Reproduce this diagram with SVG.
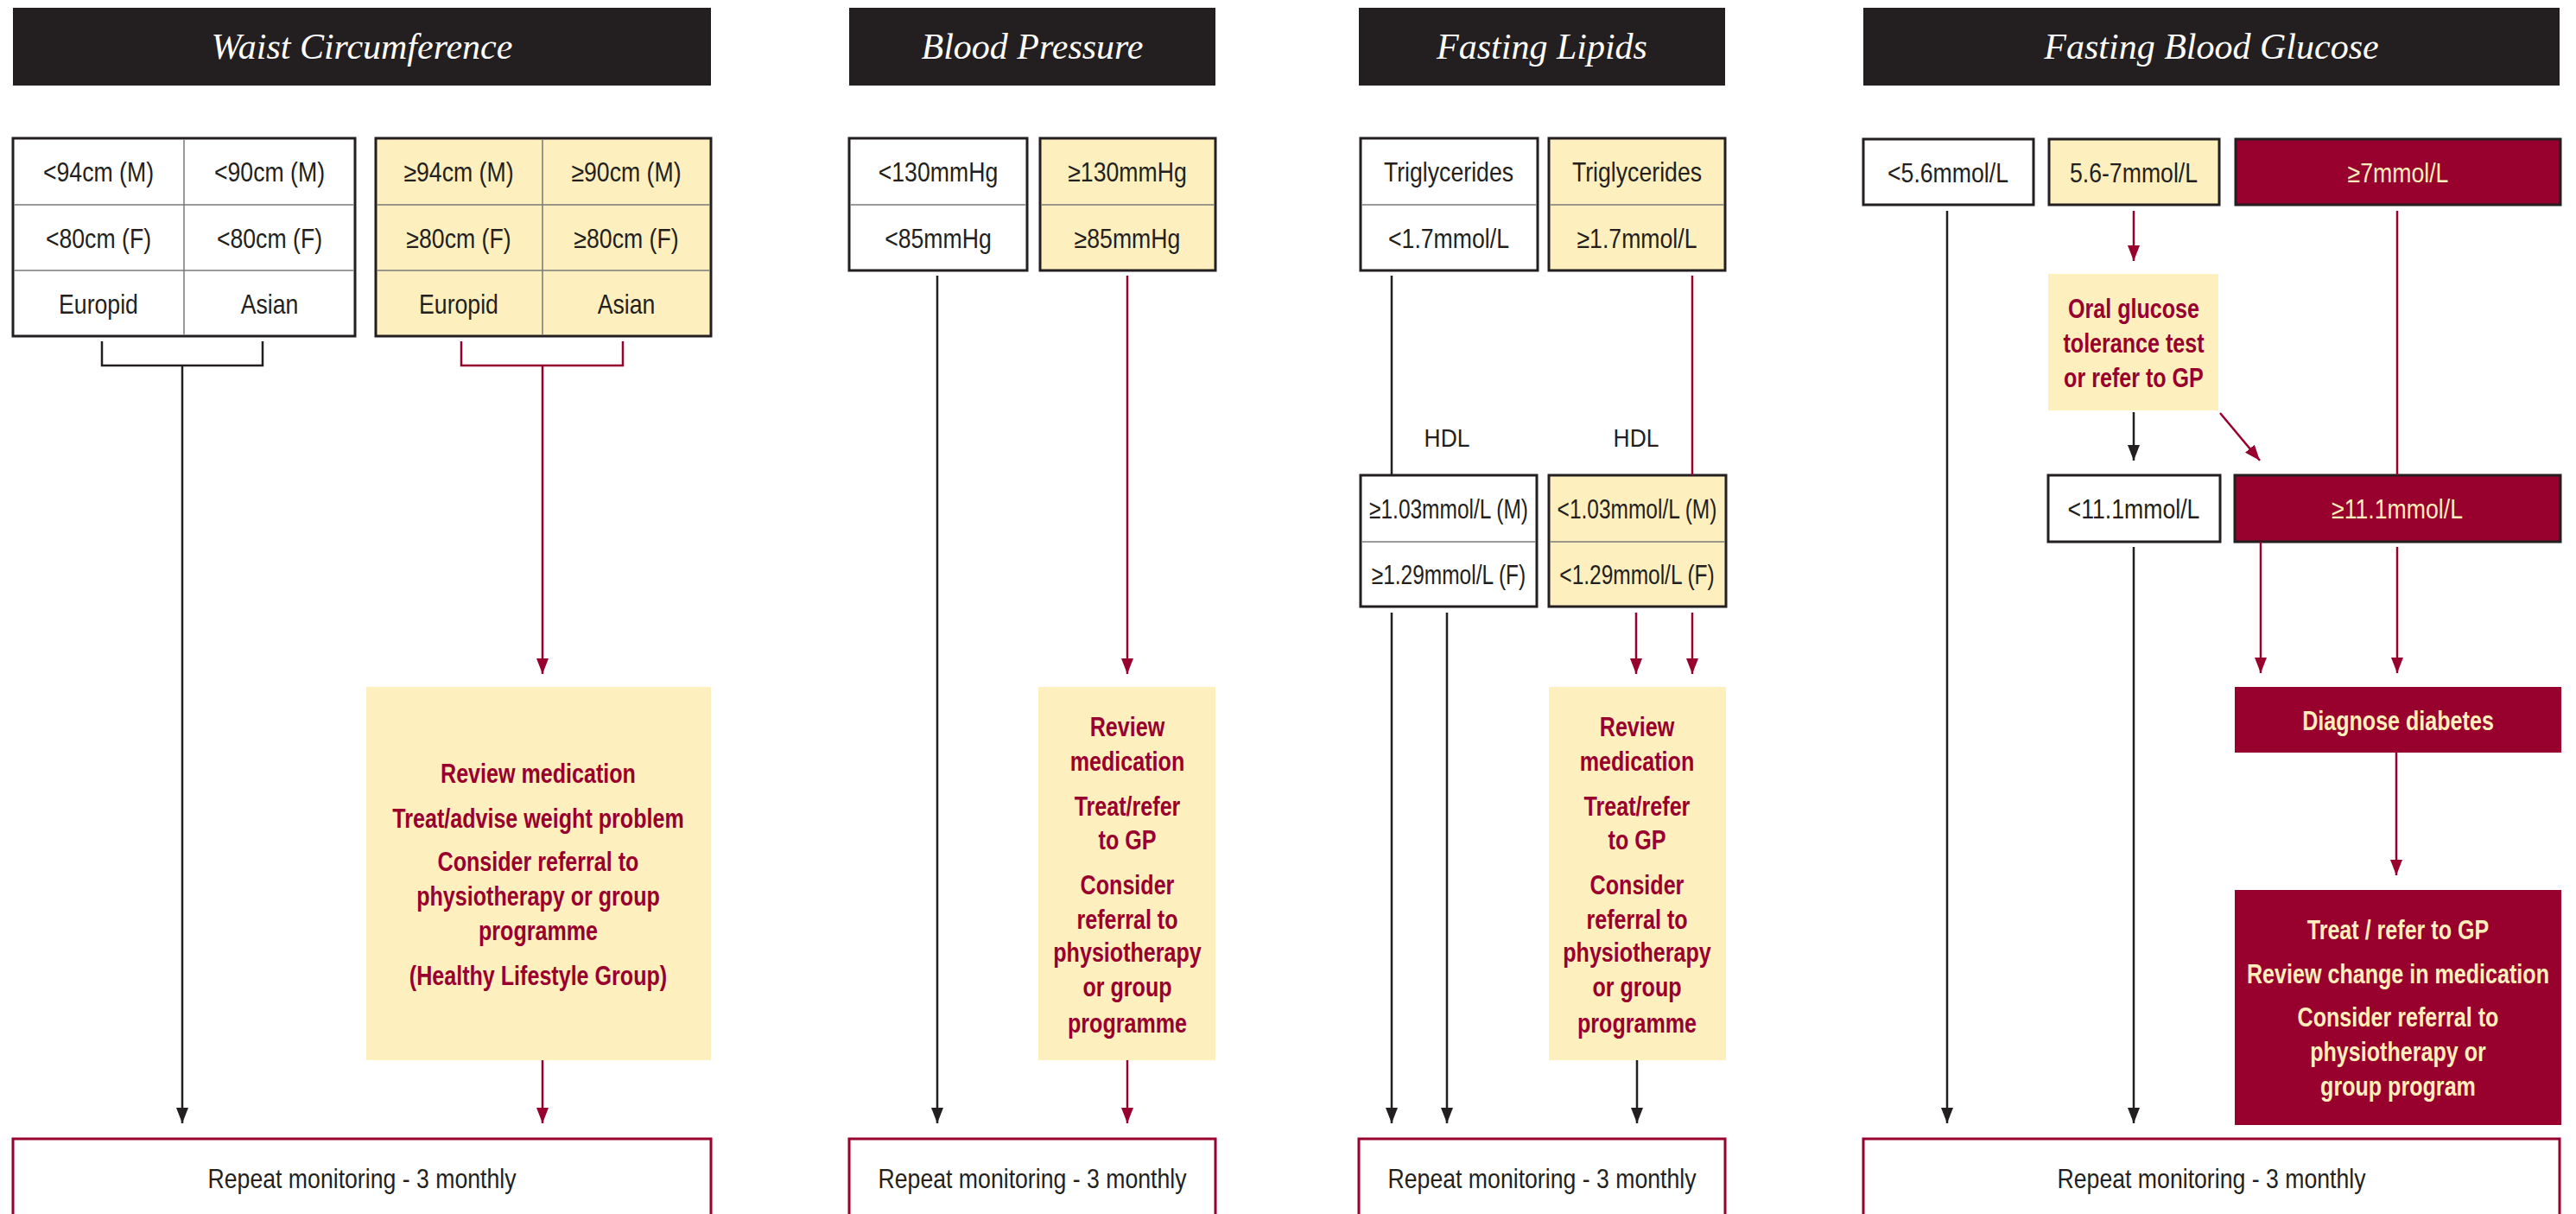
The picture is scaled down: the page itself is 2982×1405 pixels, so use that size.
<svg xmlns="http://www.w3.org/2000/svg" width="2982" height="1405" viewBox="0 0 2982 1405">
<style>
.bg{fill:#ffffff}
.hdr{fill:#231f20}
.ttl{font-family:"Liberation Serif",serif;font-style:italic;font-size:42px;fill:#ffffff;text-anchor:middle}
.t{font-family:"Liberation Sans",Arial,sans-serif;font-size:31px;fill:#231f20;text-anchor:middle;transform-box:fill-box;transform-origin:center;transform:scaleX(0.86)}
.hv{transform:scaleX(0.79)}
.hl{font-size:30px;transform:scaleX(0.88)}
.b{font-weight:bold;fill:#98002e;transform:scaleX(0.81)}
.cr{fill:#fdeebb}
.box{fill:#ffffff;stroke:#231f20;stroke-width:3}
.ybox{fill:#feefbe;stroke:#231f20;stroke-width:3}
.rbox{fill:#98002e;stroke:#231f20;stroke-width:3}
.yfill{fill:#feefbe}
.rfill{fill:#98002e}
.div{stroke:#7a7a7a;stroke-width:1.5;fill:none}
.bot{fill:#ffffff;stroke:#98002e;stroke-width:3}
.lk{stroke:#231f20;stroke-width:2.5;fill:none}
.lr{stroke:#98002e;stroke-width:2.5;fill:none}
.ak{stroke:#231f20;stroke-width:2.5;fill:none;marker-end:url(#mk)}
.ar{stroke:#98002e;stroke-width:2.5;fill:none;marker-end:url(#mr)}
</style>
<defs>
<marker id="mk" markerUnits="userSpaceOnUse" markerWidth="18" markerHeight="14" refX="18" refY="7" orient="auto"><path d="M0,0 L18,7 L0,14 z" fill="#231f20"/></marker>
<marker id="mr" markerUnits="userSpaceOnUse" markerWidth="18" markerHeight="14" refX="18" refY="7" orient="auto"><path d="M0,0 L18,7 L0,14 z" fill="#98002e"/></marker>
</defs>
<rect class="bg" x="0" y="0" width="2982" height="1405"/>

<!-- Headers -->
<g id="hdr-waist"><rect class="hdr" x="15" y="9" width="808" height="90"/><text class="ttl" x="419" y="68">Waist Circumference</text></g>
<g id="hdr-bp"><rect class="hdr" x="983" y="9" width="424" height="90"/><text class="ttl" x="1195" y="68">Blood Pressure</text></g>
<g id="hdr-lipids"><rect class="hdr" x="1573" y="9" width="424" height="90"/><text class="ttl" x="1785" y="68">Fasting Lipids</text></g>
<g id="hdr-glucose"><rect class="hdr" x="2157" y="9" width="806" height="90"/><text class="ttl" x="2560" y="68">Fasting Blood Glucose</text></g>

<!-- Waist -->
<g id="waist-normal">
<rect class="box" x="15" y="160" width="396" height="229"/>
<path class="div" d="M213,161.5V387.5M16.5,237H409.5M16.5,313H409.5"/>
<text class="t" x="114" y="210">&lt;94cm (M)</text><text class="t" x="312" y="210">&lt;90cm (M)</text>
<text class="t" x="114" y="287">&lt;80cm (F)</text><text class="t" x="312" y="287">&lt;80cm (F)</text>
<text class="t" x="114" y="363">Europid</text><text class="t" x="312" y="363">Asian</text>
</g>
<g id="waist-high">
<rect class="ybox" x="435" y="160" width="388" height="229"/>
<path class="div" d="M628,161.5V387.5M436.5,237H821.5M436.5,313H821.5"/>
<text class="t" x="531" y="210">≥94cm (M)</text><text class="t" x="725" y="210">≥90cm (M)</text>
<text class="t" x="531" y="287">≥80cm (F)</text><text class="t" x="725" y="287">≥80cm (F)</text>
<text class="t" x="531" y="363">Europid</text><text class="t" x="725" y="363">Asian</text>
</g>
<g id="waist-action">
<rect class="yfill" x="424" y="795" width="399" height="432"/>
<text class="t b" x="623" y="906">Review medication</text>
<text class="t b" x="623" y="958">Treat/advise weight problem</text>
<text class="t b" x="623" y="1008">Consider referral to</text>
<text class="t b" x="623" y="1048">physiotherapy or group</text>
<text class="t b" x="623" y="1088">programme</text>
<text class="t b" x="623" y="1140">(Healthy Lifestyle Group)</text>
</g>
<g id="waist-repeat"><rect class="bot" x="15" y="1318" width="808" height="120"/><text class="t" x="419" y="1375">Repeat monitoring - 3 monthly</text></g>

<!-- Blood pressure -->
<g id="bp-normal">
<rect class="box" x="983" y="160" width="206" height="153"/>
<path class="div" d="M984.5,237H1187.5"/>
<text class="t" x="1086" y="210">&lt;130mmHg</text><text class="t" x="1086" y="287">&lt;85mmHg</text>
</g>
<g id="bp-high">
<rect class="ybox" x="1204" y="160" width="203" height="153"/>
<path class="div" d="M1205.5,237H1405.5"/>
<text class="t" x="1305" y="210">≥130mmHg</text><text class="t" x="1305" y="287">≥85mmHg</text>
</g>
<g id="bp-action">
<rect class="yfill" x="1202" y="795" width="205" height="432"/>
<text class="t b" x="1305" y="852">Review</text>
<text class="t b" x="1305" y="892">medication</text>
<text class="t b" x="1305" y="944">Treat/refer</text>
<text class="t b" x="1305" y="983">to GP</text>
<text class="t b" x="1305" y="1035">Consider</text>
<text class="t b" x="1305" y="1075">referral to</text>
<text class="t b" x="1305" y="1113">physiotherapy</text>
<text class="t b" x="1305" y="1153">or group</text>
<text class="t b" x="1305" y="1195">programme</text>
</g>
<g id="bp-repeat"><rect class="bot" x="983" y="1318" width="424" height="120"/><text class="t" x="1195" y="1375">Repeat monitoring - 3 monthly</text></g>

<!-- Lipids -->
<g id="tg-normal">
<rect class="box" x="1575" y="160" width="205" height="153"/>
<path class="div" d="M1576.5,237H1778.5"/>
<text class="t" x="1677" y="210">Triglycerides</text><text class="t" x="1677" y="287">&lt;1.7mmol/L</text>
</g>
<g id="tg-high">
<rect class="ybox" x="1793" y="160" width="204" height="153"/>
<path class="div" d="M1794.5,237H1995.5"/>
<text class="t" x="1895" y="210">Triglycerides</text><text class="t" x="1895" y="287">≥1.7mmol/L</text>
</g>
<g id="hdl-labels">
<text class="t hl" x="1675" y="517">HDL</text>
<text class="t hl" x="1894" y="517">HDL</text>
</g>
<g id="hdl-normal">
<rect class="box" x="1575" y="550" width="204" height="152"/>
<path class="div" d="M1576.5,627H1777.5"/>
<text class="t hv" x="1677" y="600">≥1.03mmol/L (M)</text><text class="t hv" x="1677" y="676">≥1.29mmol/L (F)</text>
</g>
<g id="hdl-low">
<rect class="ybox" x="1793" y="550" width="205" height="152"/>
<path class="div" d="M1794.5,627H1996.5"/>
<text class="t hv" x="1895" y="600">&lt;1.03mmol/L (M)</text><text class="t hv" x="1895" y="676">&lt;1.29mmol/L (F)</text>
</g>
<g id="lipids-action">
<rect class="yfill" x="1793" y="795" width="205" height="432"/>
<text class="t b" x="1895" y="852">Review</text>
<text class="t b" x="1895" y="892">medication</text>
<text class="t b" x="1895" y="944">Treat/refer</text>
<text class="t b" x="1895" y="983">to GP</text>
<text class="t b" x="1895" y="1035">Consider</text>
<text class="t b" x="1895" y="1075">referral to</text>
<text class="t b" x="1895" y="1113">physiotherapy</text>
<text class="t b" x="1895" y="1153">or group</text>
<text class="t b" x="1895" y="1195">programme</text>
</g>
<g id="lipids-repeat"><rect class="bot" x="1573" y="1318" width="424" height="120"/><text class="t" x="1785" y="1375">Repeat monitoring - 3 monthly</text></g>

<!-- Glucose -->
<g id="fbg-normal"><rect class="box" x="2157" y="161" width="197" height="76"/><text class="t" x="2255" y="211">&lt;5.6mmol/L</text></g>
<g id="fbg-mid"><rect class="ybox" x="2372" y="161" width="197" height="76"/><text class="t" x="2470" y="211">5.6-7mmol/L</text></g>
<g id="fbg-high"><rect class="rbox" x="2588" y="161" width="376" height="76"/><text class="t cr" x="2776" y="211">≥7mmol/L</text></g>
<g id="ogtt"><rect class="yfill" x="2371" y="317" width="197" height="158"/>
<text class="t b" x="2470" y="368">Oral glucose</text>
<text class="t b" x="2470" y="408">tolerance test</text>
<text class="t b" x="2470" y="448">or refer to GP</text>
</g>
<g id="ogtt-low"><rect class="box" x="2371" y="550" width="199" height="77"/><text class="t" x="2470" y="600">&lt;11.1mmol/L</text></g>
<g id="ogtt-high"><rect class="rbox" x="2587" y="550" width="377" height="77"/><text class="t cr" x="2775" y="600">≥11.1mmol/L</text></g>
<g id="diagnose"><rect class="rfill" x="2587" y="795" width="378" height="76"/><text class="t b cr" x="2776" y="845">Diagnose diabetes</text></g>
<g id="diabetes-action"><rect class="rfill" x="2587" y="1030" width="378" height="272"/>
<text class="t b cr" x="2776" y="1087">Treat / refer to GP</text>
<text class="t b cr" x="2776" y="1138">Review change in medication</text>
<text class="t b cr" x="2776" y="1188">Consider referral to</text>
<text class="t b cr" x="2776" y="1228">physiotherapy or</text>
<text class="t b cr" x="2776" y="1268">group program</text>
</g>
<g id="fbg-repeat"><rect class="bot" x="2157" y="1318" width="806" height="120"/><text class="t" x="2560" y="1375">Repeat monitoring - 3 monthly</text></g>

<!-- Connectors -->
<g id="connectors">
<path class="lk" d="M118,395V423H304V395"/>
<path class="ak" d="M211,423V1300"/>
<path class="lr" d="M534,395V423H721V395"/>
<path class="ar" d="M628,423V780"/>
<path class="ar" d="M628,1227V1300"/>

<path class="ak" d="M1085,319V1300"/>
<path class="ar" d="M1305,319V780"/>
<path class="ar" d="M1305,1227V1300"/>

<path class="lk" d="M1611,319V550"/>
<path class="lr" d="M1959,319V550"/>
<path class="ak" d="M1611,709V1300"/>
<path class="ak" d="M1675,709V1300"/>
<path class="ar" d="M1894,709V780"/>
<path class="ar" d="M1959,709V780"/>
<path class="ak" d="M1895,1227V1300"/>

<path class="ak" d="M2254,244V1300"/>
<path class="ar" d="M2470,244V302"/>
<path class="ak" d="M2470,477V533"/>
<path class="ar" d="M2570,478L2616,533"/>
<path class="lr" d="M2775,244V550"/>
<path class="ak" d="M2470,633V1300"/>
<path class="ar" d="M2617,627V779"/>
<path class="ar" d="M2775,633V779"/>
<path class="ar" d="M2774,871V1013"/>
</g>
</svg>
